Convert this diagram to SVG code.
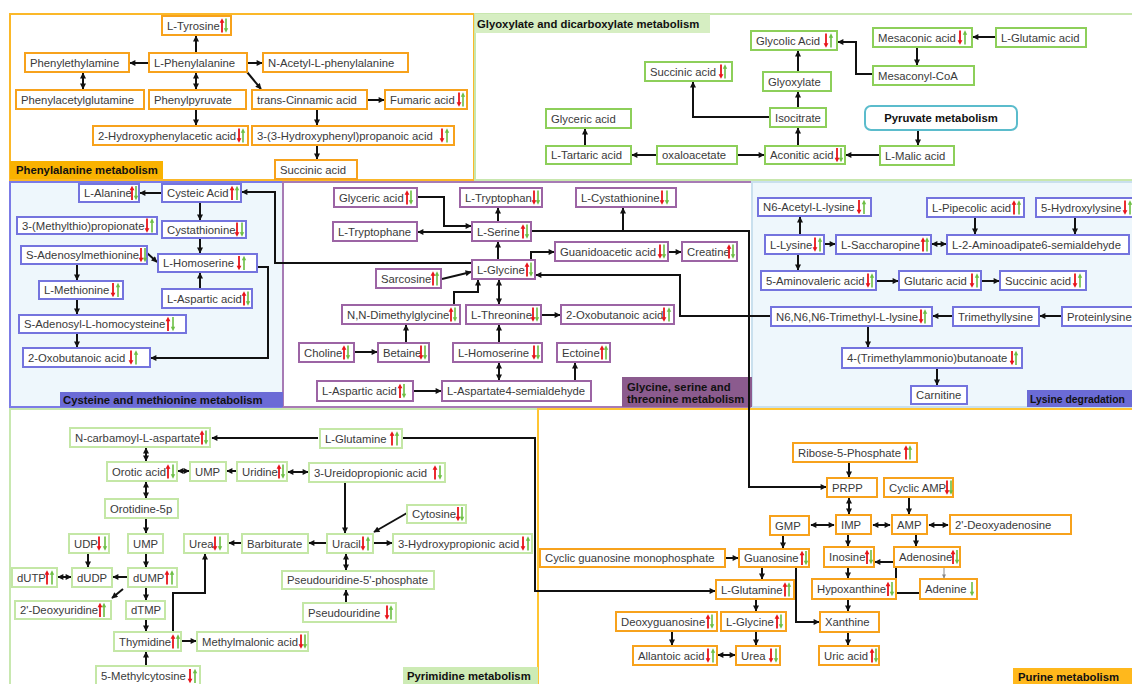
<svg xmlns="http://www.w3.org/2000/svg" width="1132" height="684" viewBox="0 0 1132 684">
<style>
.t{font-family:"Liberation Sans",Arial,sans-serif;font-size:11.3px;fill:#3a3a3a}
.lb{font-family:"Liberation Sans",Arial,sans-serif;font-size:11.3px;font-weight:bold;fill:#111}
.o{fill:#fff;stroke:#f7a21c;stroke-width:2}
.g{fill:#fff;stroke:#8dcf5a;stroke-width:2}
.lg{fill:#fff;stroke:#c4e7a6;stroke-width:2}
.b{fill:#fff;stroke:#7474de;stroke-width:2}
.p{fill:#fff;stroke:#9c64a4;stroke-width:2}
#connectors path{fill:none;stroke:#111;stroke-width:2}
#connectors path.e{marker-end:url(#a)}
#connectors path.d{marker-start:url(#a);marker-end:url(#a)}
</style>
<defs>
<marker id="a" viewBox="0 0 10 10" refX="9" refY="5" markerWidth="7" markerHeight="6" markerUnits="userSpaceOnUse" orient="auto-start-reverse"><path d="M0,0 L10,5 L0,10 z" fill="#111"/></marker>
<marker id="ag" viewBox="0 0 10 10" refX="9" refY="5" markerWidth="5" markerHeight="4" markerUnits="userSpaceOnUse" orient="auto"><path d="M0,0 L10,5 L0,10 z" fill="#888"/></marker>
<g id="ru"><rect x="-0.9" y="-3.5" width="1.8" height="10.5" fill="#e8141b"/><path d="M-2.4,-2.8 L0,-7.2 L2.4,-2.8z" fill="#e8141b"/></g>
<g id="rd"><rect x="-0.9" y="-7" width="1.8" height="10.5" fill="#e8141b"/><path d="M-2.4,2.8 L0,7.2 L2.4,2.8z" fill="#e8141b"/></g>
<g id="gu"><rect x="-0.8" y="-3.5" width="1.6" height="10.5" fill="#6dbf45"/><path d="M-2.2,-2.8 L0,-7.2 L2.2,-2.8z" fill="#6dbf45"/></g>
<g id="gd"><rect x="-0.8" y="-7" width="1.6" height="10.5" fill="#6dbf45"/><path d="M-2.2,2.8 L0,7.2 L2.2,2.8z" fill="#6dbf45"/></g>
</defs>
<rect width="1132" height="684" fill="#fff"/>
<g id="panels">
<rect x="10" y="14" width="464" height="166" fill="#fff" stroke="#fbb829" stroke-width="2"/>
<rect x="475" y="14" width="662" height="166" fill="#fff" stroke="#c8e7ae" stroke-width="2"/>
<rect x="10" y="182" width="273" height="225" fill="#eef7fc" stroke="#7b7be6" stroke-width="2"/>
<rect x="283" y="182" width="469" height="225" fill="#fff" stroke="#a77bb5" stroke-width="2"/>
<rect x="752" y="182" width="385" height="225" fill="#eef7fc" stroke="#c9e0ee" stroke-width="2"/>
<rect x="10" y="409" width="528" height="280" fill="#fff" stroke="#c8e8b0" stroke-width="2"/>
<rect x="538" y="409" width="599" height="280" fill="#fff" stroke="#ffc533" stroke-width="2"/>
<rect x="10" y="161" width="153" height="18" fill="#f9b200"/>
<text class="lb" x="16" y="174">Phenylalanine metabolism</text>
<rect x="475" y="14" width="235" height="19" fill="#d6eec2"/>
<text class="lb" x="477" y="28">Glyoxylate and dicarboxylate metabolism</text>
<rect x="60" y="392" width="223" height="15" fill="#6b6bd6"/>
<text class="lb" x="63" y="404">Cysteine and methionine metabolism</text>
<rect x="622" y="377" width="130" height="30" fill="#8b5b8e"/>
<text class="lb" x="627" y="391">Glycine, serine and</text>
<text class="lb" x="627" y="403">threonine metabolism</text>
<rect x="1027" y="390" width="110" height="17" fill="#6b6bd6"/>
<text class="lb" x="1030" y="403" style="font-size:10.4px">Lysine degradation</text>
<rect x="403" y="667" width="135" height="17" fill="#cdebb5"/>
<text class="lb" x="407" y="680">Pyrimidine metabolism</text>
<rect x="1013" y="668" width="124" height="16" fill="#ffb81c"/>
<text class="lb" x="1018" y="681">Purine metabolism</text>
</g>
<g id="connectors">
<path class="e" d="M196,53 V36"/>
<path class="e" d="M149,63 H130"/>
<path class="e" d="M247,63 H262"/>
<path class="e" d="M247,72 L261,89"/>
<path class="d" d="M83,73 V89"/>
<path class="d" d="M196,73 V89"/>
<path class="e" d="M196,109 V125"/>
<path class="e" d="M367,100 H384"/>
<path class="e" d="M317,109 V125"/>
<path class="e" d="M317,145 V159"/>
<path class="e" d="M585,146 V129"/>
<path class="e" d="M657,155 H632"/>
<path class="e" d="M737,155 H764"/>
<path class="e" d="M798,146 V128"/>
<path class="e" d="M798,108 V92"/>
<path class="e" d="M798,72 V51"/>
<path class="e" d="M770,117 H693 V82"/>
<path class="e" d="M873,74 H856 V42 H838"/>
<path class="e" d="M996,37 H973"/>
<path class="e" d="M917,47 V65"/>
<path class="e" d="M918,130 V145"/>
<path class="e" d="M880,155 H846"/>
<path class="e" d="M162,193 H140"/>
<path class="e" d="M200,202 V220"/>
<path class="e" d="M200,238 V253"/>
<path class="e" d="M147,253 L157,262"/>
<path class="e" d="M200,289 V273"/>
<path class="e" d="M77,264 V280"/>
<path class="e" d="M77,299 V314"/>
<path class="e" d="M77,333 V347"/>
<path class="e" d="M257,267 H268 V358 H151"/>
<path class="e" d="M472,263 H275 V192 H242"/>
<path class="e" d="M417,197 H444 V226 H471"/>
<path class="e" d="M498,222 V208"/>
<path class="e" d="M472,232 H418"/>
<path class="e" d="M531,231 H623 V208"/>
<path class="e" d="M531,231 H749 V487 H826"/>
<path class="e" d="M498,260 V242"/>
<path class="e" d="M531,260 V252 H554"/>
<path class="e" d="M668,252 H681"/>
<path class="e" d="M442,279 L471,272"/>
<path class="e" d="M454,305 V292 H478 V280"/>
<path class="d" d="M499,280 V304"/>
<path class="e" d="M541,315 H560"/>
<path class="e" d="M406,343 V325"/>
<path class="e" d="M354,352 H377"/>
<path class="e" d="M499,343 V325"/>
<path class="d" d="M499,363 V380"/>
<path class="e" d="M575,381 V363"/>
<path class="e" d="M413,391 H441"/>
<path class="e" d="M770,316 H680 V275 H536"/>
<path class="e" d="M800,235 V217"/>
<path class="e" d="M824,244 H835"/>
<path class="d" d="M932,244 H946"/>
<path class="e" d="M975,218 V234"/>
<path class="e" d="M1075,218 V234"/>
<path class="e" d="M798,254 V270"/>
<path class="e" d="M876,281 H898"/>
<path class="e" d="M981,281 H999"/>
<path class="e" d="M953,316 H933"/>
<path class="e" d="M1062,316 H1040"/>
<path class="e" d="M868,326 V347"/>
<path class="e" d="M937,368 V385"/>
<path class="e" d="M318,438 H212"/>
<path class="e" d="M402,438 H535 V591 H715"/>
<path class="d" d="M146,448 V461"/>
<path class="d" d="M178,471 H189"/>
<path class="e" d="M237,471 H227"/>
<path class="d" d="M288,472 H308"/>
<path class="d" d="M146,482 V498"/>
<path class="e" d="M146,518 V533"/>
<path class="e" d="M146,553 V567"/>
<path class="e" d="M88,553 V567"/>
<path class="e" d="M128,577 H113"/>
<path class="d" d="M71,577 H58"/>
<path class="e" d="M123,589 L112,598"/>
<path class="e" d="M146,587 V600"/>
<path class="e" d="M146,619 V631"/>
<path class="e" d="M146,666 V652"/>
<path class="e" d="M181,641 H196"/>
<path class="e" d="M173,632 V593 H205 V554"/>
<path class="e" d="M242,543 H229"/>
<path class="e" d="M327,543 H309"/>
<path class="e" d="M345,482 V533"/>
<path class="e" d="M407,513 L374,532"/>
<path class="e" d="M373,543 H392"/>
<path class="d" d="M346,554 V570"/>
<path class="e" d="M346,603 V590"/>
<path class="e" d="M849,462 V477"/>
<path class="d" d="M849,498 V514"/>
<path class="e" d="M909,497 V514"/>
<path class="d" d="M811,525 H834"/>
<path class="d" d="M873,525 H890"/>
<path class="d" d="M929,525 H948"/>
<path class="e" d="M783,535 V548"/>
<path class="e" d="M725,558 H738"/>
<path class="e" d="M848,534 V546"/>
<path class="e" d="M916,534 V546"/>
<path class="e" d="M762,567 V579"/>
<path class="e" d="M796,567 V622 H819"/>
<path class="e" d="M848,567 V578"/>
<path d="M944,567 V578" style="stroke:#888;stroke-width:1;marker-end:url(#ag)"/>
<path class="e" d="M920,593 H896 V562 H875"/>
<path class="e" d="M848,599 V611"/>
<path class="e" d="M848,632 V645"/>
<path class="e" d="M756,599 V611"/>
<path class="e" d="M756,631 V645"/>
<path class="e" d="M672,631 V645"/>
<path class="d" d="M718,655 H735"/>
</g>
<g id="nodes">
<g id="n-tyr"><rect class="o" x="162" y="16" width="69" height="19"/><text class="t" x="167" y="29.5">L-Tyrosine</text><use href="#ru" x="222" y="25.5"/><use href="#gd" x="226" y="25.5"/></g>
<g id="n-phea"><rect class="o" x="25" y="53" width="104" height="19"/><text class="t" x="30" y="66.5">Phenylethylamine</text></g>
<g id="n-phe"><rect class="o" x="149" y="53" width="98" height="19"/><text class="t" x="154" y="66.5">L-Phenylalanine</text></g>
<g id="n-nacphe"><rect class="o" x="263" y="53" width="145" height="19"/><text class="t" x="268" y="66.5">N-Acetyl-L-phenylalanine</text></g>
<g id="n-pag"><rect class="o" x="16" y="90" width="128" height="19"/><text class="t" x="21" y="103.5">Phenylacetylglutamine</text></g>
<g id="n-ppyr"><rect class="o" x="149" y="90" width="97" height="19"/><text class="t" x="154" y="103.5">Phenylpyruvate</text></g>
<g id="n-tcin"><rect class="o" x="252" y="90" width="115" height="19"/><text class="t" x="257" y="103.5">trans-Cinnamic acid</text></g>
<g id="n-fum"><rect class="o" x="385" y="90" width="82" height="19"/><text class="t" x="390" y="103.5">Fumaric acid</text><use href="#rd" x="459" y="99.5"/><use href="#gu" x="463" y="99.5"/></g>
<g id="n-hpa"><rect class="o" x="93" y="126" width="155" height="19"/><text class="t" x="98" y="139.5">2-Hydroxyphenylacetic acid</text><use href="#rd" x="239" y="135.5"/><use href="#gu" x="243" y="135.5"/></g>
<g id="n-hpp"><rect class="o" x="252" y="126" width="202" height="19"/><text class="t" x="257" y="139.5">3-(3-Hydroxyphenyl)propanoic acid</text><use href="#rd" x="442" y="135.5"/><use href="#gu" x="447" y="135.5"/></g>
<g id="n-succ1"><rect class="o" x="275" y="160" width="82" height="19"/><text class="t" x="280" y="173.5">Succinic acid</text></g>
<g id="n-glyc1"><rect class="g" x="546" y="109" width="85" height="19"/><text class="t" x="551" y="122.5">Glyceric acid</text></g>
<g id="n-tart"><rect class="g" x="546" y="146" width="85" height="18"/><text class="t" x="551" y="159">L-Tartaric acid</text></g>
<g id="n-oxa"><rect class="g" x="657" y="146" width="80" height="18"/><text class="t" x="662" y="159">oxaloacetate</text></g>
<g id="n-succ2"><rect class="g" x="645" y="62" width="87" height="19"/><text class="t" x="650" y="75.5">Succinic acid</text><use href="#rd" x="721" y="71.5"/><use href="#gu" x="725" y="71.5"/></g>
<g id="n-acon"><rect class="g" x="765" y="146" width="80" height="18"/><text class="t" x="770" y="159">Aconitic acid</text><use href="#rd" x="837" y="155"/><use href="#gd" x="841" y="155"/></g>
<g id="n-isoc"><rect class="g" x="770" y="108" width="56" height="19"/><text class="t" x="775" y="121.5">Isocitrate</text></g>
<g id="n-glyox"><rect class="g" x="763" y="72" width="68" height="19"/><text class="t" x="768" y="85.5">Glyoxylate</text></g>
<g id="n-glycol"><rect class="g" x="751" y="31" width="86" height="19"/><text class="t" x="756" y="44.5">Glycolic Acid</text><use href="#rd" x="826" y="40.5"/><use href="#gu" x="831" y="40.5"/></g>
<g id="n-mesac"><rect class="g" x="873" y="28" width="99" height="19"/><text class="t" x="878" y="41.5">Mesaconic acid</text><use href="#rd" x="960" y="37.5"/><use href="#gu" x="965" y="37.5"/></g>
<g id="n-glu"><rect class="g" x="996" y="28" width="90" height="19"/><text class="t" x="1001" y="41.5">L-Glutamic acid</text></g>
<g id="n-mesacoa"><rect class="g" x="873" y="66" width="101" height="19"/><text class="t" x="878" y="79.5">Mesaconyl-CoA</text></g>
<g id="n-pyrm"><rect x="865" y="106" width="152" height="24" rx="6" fill="#fff" stroke="#5bbccc" stroke-width="2"/><text class="lb" x="941" y="122" text-anchor="middle">Pyruvate metabolism</text></g>
<g id="n-mal"><rect class="g" x="880" y="146" width="74" height="19"/><text class="t" x="885" y="159.5">L-Malic acid</text></g>
<g id="n-ala"><rect class="b" x="79" y="184" width="60" height="18"/><text class="t" x="84" y="197">L-Alanine</text><use href="#ru" x="132" y="193"/><use href="#gd" x="136" y="193"/></g>
<g id="n-cya"><rect class="b" x="162" y="184" width="79" height="18"/><text class="t" x="167" y="197">Cysteic Acid</text><use href="#ru" x="232" y="193"/><use href="#gu" x="237" y="193"/></g>
<g id="n-mtp"><rect class="b" x="17" y="217" width="140" height="17"/><text class="t" x="22" y="229.5">3-(Methylthio)propionate</text><use href="#rd" x="147" y="225.5"/><use href="#gu" x="152" y="225.5"/></g>
<g id="n-cysth"><rect class="b" x="162" y="221" width="84" height="17"/><text class="t" x="167" y="233.5">Cystathionine</text><use href="#rd" x="237" y="229.5"/><use href="#gd" x="242" y="229.5"/></g>
<g id="n-sam"><rect class="b" x="21" y="246" width="126" height="18"/><text class="t" x="26" y="259">S-Adenosylmethionine</text><use href="#rd" x="141" y="255"/><use href="#gd" x="145" y="255"/></g>
<g id="n-hser1"><rect class="b" x="158" y="254" width="99" height="18"/><text class="t" x="163" y="267">L-Homoserine</text><use href="#rd" x="239" y="263"/><use href="#gu" x="244" y="263"/></g>
<g id="n-met"><rect class="b" x="39" y="281" width="84" height="18"/><text class="t" x="44" y="294">L-Methionine</text><use href="#rd" x="113" y="290"/><use href="#gu" x="118" y="290"/></g>
<g id="n-asp1"><rect class="b" x="162" y="289" width="90" height="19"/><text class="t" x="167" y="302.5">L-Aspartic acid</text><use href="#ru" x="244" y="298.5"/><use href="#gd" x="248" y="298.5"/></g>
<g id="n-sah"><rect class="b" x="19" y="315" width="167" height="18"/><text class="t" x="24" y="328">S-Adenosyl-L-homocysteine</text><use href="#ru" x="168" y="324"/><use href="#gd" x="173" y="324"/></g>
<g id="n-oxb1"><rect class="b" x="23" y="348" width="127" height="19"/><text class="t" x="28" y="361.5">2-Oxobutanoic acid</text><use href="#rd" x="131" y="357.5"/><use href="#gu" x="136" y="357.5"/></g>
<g id="n-glyc2"><rect class="p" x="334" y="188" width="83" height="19"/><text class="t" x="339" y="201.5">Glyceric acid</text><use href="#ru" x="407" y="197.5"/><use href="#gd" x="411" y="197.5"/></g>
<g id="n-trp"><rect class="p" x="460" y="188" width="82" height="19"/><text class="t" x="465" y="201.5">L-Tryptophan</text><use href="#rd" x="534" y="197.5"/><use href="#gd" x="538" y="197.5"/></g>
<g id="n-cysth2"><rect class="p" x="576" y="188" width="100" height="19"/><text class="t" x="581" y="201.5">L-Cystathionine</text><use href="#rd" x="662" y="197.5"/><use href="#gd" x="667" y="197.5"/></g>
<g id="n-trpe"><rect class="p" x="333" y="222" width="84" height="19"/><text class="t" x="338" y="235.5">L-Tryptophane</text></g>
<g id="n-ser"><rect class="p" x="472" y="222" width="59" height="19"/><text class="t" x="477" y="235.5">L-Serine</text><use href="#ru" x="523" y="231.5"/><use href="#gd" x="527" y="231.5"/></g>
<g id="n-gaa"><rect class="p" x="555" y="242" width="113" height="19"/><text class="t" x="560" y="255.5">Guanidoacetic acid</text><use href="#rd" x="660" y="251.5"/><use href="#gd" x="664" y="251.5"/></g>
<g id="n-cre"><rect class="p" x="682" y="242" width="55" height="19"/><text class="t" x="687" y="255.5">Creatine</text><use href="#ru" x="729" y="251.5"/><use href="#gd" x="733" y="251.5"/></g>
<g id="n-gly"><rect class="p" x="472" y="260" width="63" height="19"/><text class="t" x="477" y="273.5">L-Glycine</text><use href="#ru" x="527" y="269.5"/><use href="#gd" x="531" y="269.5"/></g>
<g id="n-sar"><rect class="p" x="376" y="269" width="65" height="19"/><text class="t" x="381" y="282.5">Sarcosine</text><use href="#ru" x="433" y="278.5"/><use href="#gu" x="437" y="278.5"/></g>
<g id="n-dmg"><rect class="p" x="342" y="305" width="118" height="19"/><text class="t" x="347" y="318.5">N,N-Dimethylglycine</text><use href="#ru" x="451" y="314.5"/><use href="#gd" x="455" y="314.5"/></g>
<g id="n-thr"><rect class="p" x="466" y="305" width="75" height="19"/><text class="t" x="471" y="318.5">L-Threonine</text><use href="#rd" x="533" y="314.5"/><use href="#gd" x="537" y="314.5"/></g>
<g id="n-oxb2"><rect class="p" x="561" y="305" width="113" height="19"/><text class="t" x="566" y="318.5">2-Oxobutanoic acid</text><use href="#rd" x="664" y="314.5"/><use href="#gu" x="669" y="314.5"/></g>
<g id="n-cho"><rect class="p" x="299" y="343" width="55" height="19"/><text class="t" x="304" y="356.5">Choline</text><use href="#ru" x="344" y="352.5"/><use href="#gd" x="348" y="352.5"/></g>
<g id="n-bet"><rect class="p" x="378" y="343" width="51" height="19"/><text class="t" x="383" y="356.5">Betaine</text><use href="#rd" x="421" y="352.5"/><use href="#gd" x="425" y="352.5"/></g>
<g id="n-hser2"><rect class="p" x="453" y="343" width="89" height="19"/><text class="t" x="458" y="356.5">L-Homoserine</text><use href="#rd" x="534" y="352.5"/><use href="#gd" x="538" y="352.5"/></g>
<g id="n-ect"><rect class="p" x="557" y="343" width="53" height="19"/><text class="t" x="562" y="356.5">Ectoine</text><use href="#ru" x="602" y="352.5"/><use href="#gu" x="606" y="352.5"/></g>
<g id="n-asp2"><rect class="p" x="317" y="381" width="96" height="20"/><text class="t" x="322" y="395">L-Aspartic acid</text><use href="#ru" x="400" y="391"/><use href="#gd" x="404" y="391"/></g>
<g id="n-asa"><rect class="p" x="442" y="381" width="149" height="20"/><text class="t" x="447" y="395">L-Aspartate4-semialdehyde</text></g>
<g id="n-nacl"><rect class="b" x="758" y="198" width="113" height="18"/><text class="t" x="763" y="211">N6-Acetyl-L-lysine</text><use href="#rd" x="859" y="207"/><use href="#gu" x="864" y="207"/></g>
<g id="n-pip"><rect class="b" x="927" y="198" width="97" height="19"/><text class="t" x="932" y="211.5">L-Pipecolic acid</text><use href="#ru" x="1014" y="207.5"/><use href="#gu" x="1019" y="207.5"/></g>
<g id="n-hyl"><rect class="b" x="1036" y="198" width="100" height="19"/><text class="t" x="1041" y="211.5">5-Hydroxylysine</text><use href="#rd" x="1125" y="207.5"/><use href="#gu" x="1130" y="207.5"/></g>
<g id="n-lys"><rect class="b" x="765" y="235" width="59" height="19"/><text class="t" x="770" y="248.5">L-Lysine</text><use href="#rd" x="815" y="244.5"/><use href="#gu" x="820" y="244.5"/></g>
<g id="n-sacc"><rect class="b" x="836" y="235" width="95" height="19"/><text class="t" x="841" y="248.5">L-Saccharopine</text><use href="#ru" x="923" y="244.5"/><use href="#gu" x="927" y="244.5"/></g>
<g id="n-aasa"><rect class="b" x="947" y="235" width="182" height="19"/><text class="t" x="952" y="248.5">L-2-Aminoadipate6-semialdehyde</text></g>
<g id="n-ava"><rect class="b" x="761" y="271" width="115" height="19"/><text class="t" x="766" y="284.5">5-Aminovaleric acid</text><use href="#rd" x="868" y="280.5"/><use href="#gu" x="872" y="280.5"/></g>
<g id="n-glut"><rect class="b" x="899" y="271" width="82" height="19"/><text class="t" x="904" y="284.5">Glutaric acid</text><use href="#rd" x="972" y="280.5"/><use href="#gu" x="977" y="280.5"/></g>
<g id="n-succ3"><rect class="b" x="1000" y="271" width="86" height="19"/><text class="t" x="1005" y="284.5">Succinic acid</text><use href="#rd" x="1075" y="280.5"/><use href="#gu" x="1080" y="280.5"/></g>
<g id="n-tml"><rect class="b" x="771" y="307" width="161" height="19"/><text class="t" x="776" y="320.5">N6,N6,N6-Trimethyl-L-lysine</text><use href="#rd" x="921" y="316.5"/><use href="#gu" x="925" y="316.5"/></g>
<g id="n-tmlys"><rect class="b" x="953" y="307" width="86" height="19"/><text class="t" x="958" y="320.5">Trimethyllysine</text></g>
<g id="n-prot"><rect class="b" x="1062" y="307" width="76" height="19"/><text class="t" x="1067" y="320.5">Proteinlysine</text></g>
<g id="n-tmab"><rect class="b" x="842" y="348" width="180" height="20"/><text class="t" x="847" y="362">4-(Trimethylammonio)butanoate</text><use href="#rd" x="1012" y="358"/><use href="#gu" x="1016" y="358"/></g>
<g id="n-car"><rect class="b" x="911" y="386" width="56" height="18"/><text class="t" x="916" y="399">Carnitine</text></g>
<g id="n-ncarb"><rect class="lg" x="70" y="428" width="140" height="19"/><text class="t" x="75" y="441.5">N-carbamoyl-L-aspartate</text><use href="#ru" x="202" y="437.5"/><use href="#gd" x="206" y="437.5"/></g>
<g id="n-oro"><rect class="lg" x="107" y="462" width="70" height="19"/><text class="t" x="112" y="475.5">Orotic acid</text><use href="#ru" x="168" y="471.5"/><use href="#gd" x="173" y="471.5"/></g>
<g id="n-ump1"><rect class="lg" x="190" y="462" width="36" height="19"/><text class="t" x="195" y="475.5">UMP</text></g>
<g id="n-uri"><rect class="lg" x="237" y="462" width="50" height="19"/><text class="t" x="242" y="475.5">Uridine</text><use href="#ru" x="279" y="471.5"/><use href="#gd" x="283" y="471.5"/></g>
<g id="n-urp"><rect class="lg" x="309" y="463" width="136" height="19"/><text class="t" x="314" y="476.5">3-Ureidopropionic acid</text><use href="#ru" x="435" y="472.5"/><use href="#gd" x="440" y="472.5"/></g>
<g id="n-gln1"><rect class="lg" x="320" y="429" width="82" height="19"/><text class="t" x="325" y="442.5">L-Glutamine</text><use href="#ru" x="392" y="438.5"/><use href="#gu" x="397" y="438.5"/></g>
<g id="n-orot5"><rect class="lg" x="105" y="499" width="73" height="19"/><text class="t" x="110" y="512.5">Orotidine-5p</text></g>
<g id="n-udp"><rect class="lg" x="69" y="534" width="40" height="19"/><text class="t" x="74" y="547.5">UDP</text><use href="#rd" x="99" y="543.5"/><use href="#gd" x="105" y="543.5"/></g>
<g id="n-ump2"><rect class="lg" x="128" y="534" width="35" height="19"/><text class="t" x="133" y="547.5">UMP</text></g>
<g id="n-urea1"><rect class="lg" x="184" y="534" width="44" height="19"/><text class="t" x="189" y="547.5">Urea</text><use href="#rd" x="215" y="543.5"/><use href="#gd" x="220" y="543.5"/></g>
<g id="n-barb"><rect class="lg" x="242" y="534" width="66" height="19"/><text class="t" x="247" y="547.5">Barbiturate</text></g>
<g id="n-cyt"><rect class="lg" x="407" y="505" width="59" height="18"/><text class="t" x="412" y="518">Cytosine</text><use href="#rd" x="458" y="514"/><use href="#gd" x="462" y="514"/></g>
<g id="n-ura"><rect class="lg" x="327" y="534" width="46" height="19"/><text class="t" x="332" y="547.5">Uracil</text><use href="#rd" x="363" y="543.5"/><use href="#gu" x="368" y="543.5"/></g>
<g id="n-hpa3"><rect class="lg" x="393" y="534" width="139" height="19"/><text class="t" x="398" y="547.5">3-Hydroxypropionic acid</text><use href="#rd" x="523" y="543.5"/><use href="#gu" x="528" y="543.5"/></g>
<g id="n-dutp"><rect class="lg" x="12" y="568" width="45" height="19"/><text class="t" x="17" y="581.5">dUTP</text><use href="#ru" x="47" y="577.5"/><use href="#gu" x="52" y="577.5"/></g>
<g id="n-dudp"><rect class="lg" x="72" y="568" width="40" height="19"/><text class="t" x="77" y="581.5">dUDP</text></g>
<g id="n-dump"><rect class="lg" x="128" y="568" width="49" height="19"/><text class="t" x="133" y="581.5">dUMP</text><use href="#ru" x="167" y="577.5"/><use href="#gu" x="172" y="577.5"/></g>
<g id="n-psu5"><rect class="lg" x="282" y="571" width="152" height="18"/><text class="t" x="287" y="584">Pseudouridine-5'-phosphate</text></g>
<g id="n-dur"><rect class="lg" x="15" y="601" width="96" height="18"/><text class="t" x="20" y="614">2'-Deoxyuridine</text><use href="#ru" x="100" y="610"/><use href="#gu" x="104" y="610"/></g>
<g id="n-dtmp"><rect class="lg" x="126" y="601" width="39" height="18"/><text class="t" x="131" y="614">dTMP</text></g>
<g id="n-psu"><rect class="lg" x="303" y="603" width="93" height="19"/><text class="t" x="308" y="616.5">Pseudouridine</text><use href="#rd" x="387" y="612.5"/><use href="#gu" x="391" y="612.5"/></g>
<g id="n-thy"><rect class="lg" x="114" y="632" width="67" height="19"/><text class="t" x="119" y="645.5">Thymidine</text><use href="#ru" x="173" y="641.5"/><use href="#gu" x="178" y="641.5"/></g>
<g id="n-mma"><rect class="lg" x="197" y="632" width="111" height="19"/><text class="t" x="202" y="645.5">Methylmalonic acid</text><use href="#rd" x="301" y="641.5"/><use href="#gd" x="305" y="641.5"/></g>
<g id="n-mcyt"><rect class="lg" x="96" y="666" width="104" height="21"/><text class="t" x="101" y="680">5-Methylcytosine</text><use href="#rd" x="190" y="676"/><use href="#gu" x="195" y="676"/></g>
<g id="n-r5p"><rect class="o" x="793" y="443" width="124" height="19"/><text class="t" x="798" y="456.5">Ribose-5-Phosphate</text><use href="#ru" x="906" y="452.5"/><use href="#gu" x="910" y="452.5"/></g>
<g id="n-prpp"><rect class="o" x="827" y="478" width="50" height="19"/><text class="t" x="832" y="491.5">PRPP</text></g>
<g id="n-camp"><rect class="o" x="884" y="478" width="69" height="19"/><text class="t" x="889" y="491.5">Cyclic AMP</text><use href="#rd" x="947" y="487.5"/><use href="#gd" x="951" y="487.5"/></g>
<g id="n-gmp"><rect class="o" x="770" y="516" width="39" height="19"/><text class="t" x="775" y="529.5">GMP</text></g>
<g id="n-imp"><rect class="o" x="836" y="515" width="35" height="19"/><text class="t" x="841" y="528.5">IMP</text></g>
<g id="n-amp"><rect class="o" x="892" y="515" width="35" height="19"/><text class="t" x="897" y="528.5">AMP</text></g>
<g id="n-dado"><rect class="o" x="950" y="515" width="121" height="19"/><text class="t" x="955" y="528.5">2'-Deoxyadenosine</text></g>
<g id="n-cgmp"><rect class="o" x="540" y="549" width="185" height="18"/><text class="t" x="545" y="562">Cyclic guanosine monophosphate</text></g>
<g id="n-guo"><rect class="o" x="739" y="549" width="70" height="18"/><text class="t" x="744" y="562">Guanosine</text><use href="#ru" x="802" y="558"/><use href="#gd" x="806" y="558"/></g>
<g id="n-ino"><rect class="o" x="824" y="547" width="50" height="20"/><text class="t" x="829" y="561">Inosine</text><use href="#ru" x="867" y="557"/><use href="#gd" x="871" y="557"/></g>
<g id="n-ado"><rect class="o" x="894" y="547" width="66" height="20"/><text class="t" x="899" y="561">Adenosine</text><use href="#ru" x="953" y="557"/><use href="#gd" x="957" y="557"/></g>
<g id="n-gln2"><rect class="o" x="716" y="580" width="78" height="19"/><text class="t" x="721" y="593.5">L-Glutamine</text><use href="#ru" x="785" y="589.5"/><use href="#gu" x="789" y="589.5"/></g>
<g id="n-hyp"><rect class="o" x="812" y="579" width="84" height="20"/><text class="t" x="817" y="593">Hypoxanthine</text><use href="#ru" x="888" y="589"/><use href="#gd" x="892" y="589"/></g>
<g id="n-ade"><rect class="o" x="920" y="579" width="57" height="20"/><text class="t" x="925" y="593">Adenine</text><use href="#gd" x="972" y="589"/></g>
<g id="n-dguo"><rect class="o" x="616" y="612" width="101" height="19"/><text class="t" x="621" y="625.5">Deoxyguanosine</text><use href="#ru" x="708" y="621.5"/><use href="#gd" x="712" y="621.5"/></g>
<g id="n-gly2"><rect class="o" x="721" y="612" width="65" height="19"/><text class="t" x="726" y="625.5">L-Glycine</text><use href="#ru" x="777" y="621.5"/><use href="#gd" x="781" y="621.5"/></g>
<g id="n-xan"><rect class="o" x="820" y="612" width="59" height="20"/><text class="t" x="825" y="626">Xanthine</text></g>
<g id="n-alla"><rect class="o" x="633" y="646" width="84" height="19"/><text class="t" x="638" y="659.5">Allantoic acid</text><use href="#rd" x="708" y="655.5"/><use href="#gu" x="713" y="655.5"/></g>
<g id="n-urea2"><rect class="o" x="736" y="646" width="44" height="19"/><text class="t" x="741" y="659.5">Urea</text><use href="#rd" x="771" y="655.5"/><use href="#gd" x="776" y="655.5"/></g>
<g id="n-uric"><rect class="o" x="819" y="646" width="60" height="19"/><text class="t" x="824" y="659.5">Uric acid</text><use href="#ru" x="872" y="655.5"/><use href="#gd" x="876" y="655.5"/></g>
</g>
</svg>
